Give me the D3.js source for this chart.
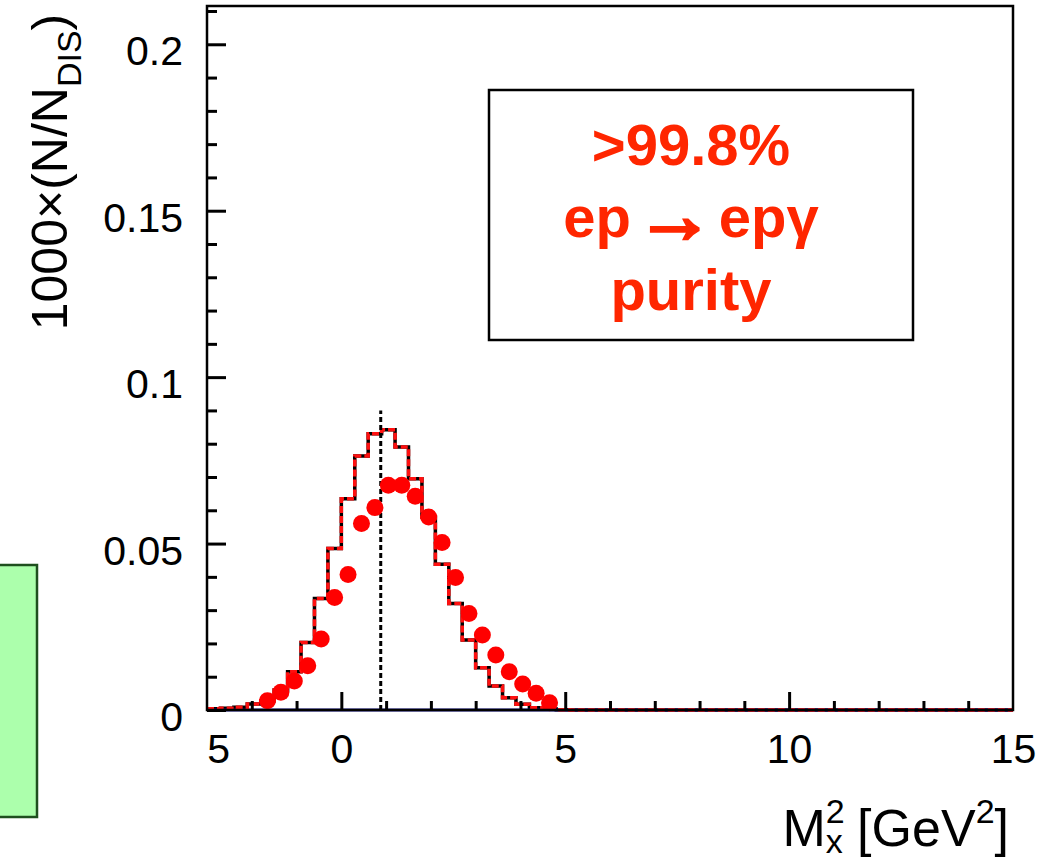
<!DOCTYPE html>
<html>
<head>
<meta charset="utf-8">
<script src="https://d3js.org/d3.v7.min.js"></script>
<style>
  body { margin: 0; background: #fff; }
  svg { display: block; }
  text { font-family: "Liberation Sans", Arial, Helvetica, sans-serif; }
</style>
</head>
<body>
<script>
// histogram: 0.3 wide bins starting at -3.0 (black line + red dashed overlay)
let binStart = -3.0;
let binWidth = 0.3;
let histValues = [
    0.0004, 0.0005, 0.0008, 0.0018, 0.0028, 0.0060, 0.0115, 0.0203, 0.0335, 0.0485,
    0.0635, 0.0763, 0.0830, 0.0842, 0.0790, 0.0695, 0.0580, 0.0438, 0.0320, 0.0210,
    0.0127, 0.0072, 0.0037, 0.0017, 0.0007, 0.0003, 0.0001, 0, 0, 0,
    0, 0, 0, 0, 0, 0, 0, 0, 0, 0,
    0, 0, 0, 0, 0, 0, 0, 0, 0, 0,
    0, 0, 0, 0, 0, 0, 0, 0, 0, 0
];

// red points (bin centres)
let dotX = [-1.65, -1.35, -1.05, -0.75, -0.45, -0.15, 0.15, 0.45, 0.75, 1.05, 1.35,
            1.65, 1.95, 2.25, 2.55, 2.85, 3.15, 3.45, 3.75, 4.05, 4.35, 4.65];
let dotY = [0.0028, 0.0053, 0.0087, 0.0133, 0.0213, 0.0338, 0.0407, 0.0560, 0.0608, 0.0675, 0.0675,
            0.0642, 0.0580, 0.0503, 0.0398, 0.0290, 0.0225, 0.0165, 0.0115, 0.0078, 0.0050, 0.0022];

// proton mass squared marker
let markerX = 0.88;
let markerTop = 0.09;

let xTickVals = [-2.75, 0, 5, 10, 15];
let xTickLabels = ["5", "0", "5", "10", "15"];
let xMinor = [-2, -1, 1, 2, 3, 4, 6, 7, 8, 9, 11, 12, 13, 14];
let yTickVals = [0, 0.05, 0.1, 0.15, 0.2];
let yTickLabels = ["0", "0.05", "0.1", "0.15", "0.2"];
let yMinor = [0.01, 0.02, 0.03, 0.04, 0.06, 0.07, 0.08, 0.09, 0.11, 0.12, 0.13, 0.14,
              0.16, 0.17, 0.18, 0.19, 0.21];

let width = 1058,
    height = 860;
let margin = {top: 6, right: 45, bottom: 150, left: 207};

let svg = d3.select("body")
    .append("svg")
    .attr("width", width)
    .attr("height", height);

let x = d3.scaleLinear()
    .domain([-3, 15])
    .range([margin.left, width - margin.right]);

let y = d3.scaleLinear()
    .domain([0, 0.2115])
    .range([height - margin.bottom, margin.top]);

// green box peeking in on the left
svg.append("rect")
    .attr("x", -5)
    .attr("y", 565)
    .attr("width", 42)
    .attr("height", 252)
    .attr("fill", "#acffac")
    .attr("stroke", "#1e4f1e")
    .attr("stroke-width", 2.5);

// build histogram step path
let bins = histValues.map(function (v, i) {
    return {x0: binStart + i * binWidth, x1: binStart + (i + 1) * binWidth, v: v};
});
let stepPts = [];
bins.forEach(function (b) {
    stepPts.push([b.x0, b.v]);
    stepPts.push([b.x1, b.v]);
});
let stepLine = d3.line()
    .x(function (d) { return x(d[0]); })
    .y(function (d) { return y(d[1]); });

svg.append("path")
    .datum(stepPts)
    .attr("d", stepLine)
    .attr("fill", "none")
    .attr("stroke", "#000")
    .attr("stroke-width", 3.5);

// blue zero line
svg.append("line")
    .attr("x1", x(-3))
    .attr("x2", x(15))
    .attr("y1", y(0))
    .attr("y2", y(0))
    .attr("stroke", "#12128c")
    .attr("stroke-width", 3);

svg.append("path")
    .datum(stepPts)
    .attr("d", stepLine)
    .attr("fill", "none")
    .attr("stroke", "#ff1010")
    .attr("stroke-width", 3.5)
    .attr("stroke-dasharray", "7,3");

// dotted marker
svg.append("line")
    .attr("x1", x(markerX))
    .attr("x2", x(markerX))
    .attr("y1", y(0))
    .attr("y2", y(markerTop))
    .attr("stroke", "#000")
    .attr("stroke-width", 3)
    .attr("stroke-dasharray", "5,3");

// points
svg.selectAll("circle.pt")
    .data(dotX)
    .enter()
    .append("circle")
    .attr("class", "pt")
    .attr("cx", function (d) { return x(d); })
    .attr("cy", function (d, i) { return y(dotY[i]); })
    .attr("r", 8.5)
    .attr("fill", "#ff0000");

// frame
svg.append("rect")
    .attr("x", x(-3))
    .attr("y", y(0.2115))
    .attr("width", x(15) - x(-3))
    .attr("height", y(0) - y(0.2115))
    .attr("fill", "none")
    .attr("stroke", "#000")
    .attr("stroke-width", 2.5);

// ticks (inward)
function styleTicks(g) {
    g.select(".domain").remove();
    g.selectAll(".tick line").attr("stroke", "#000").attr("stroke-width", 3);
    g.selectAll(".tick text").remove();
}

svg.append("g")
    .attr("transform", "translate(0," + y(0) + ")")
    .call(d3.axisTop(x).tickValues([0, 5, 10]).tickSize(18))
    .call(styleTicks);
svg.append("g")
    .attr("transform", "translate(0," + y(0) + ")")
    .call(d3.axisTop(x).tickValues(xMinor).tickSize(9))
    .call(styleTicks);
svg.append("g")
    .attr("transform", "translate(" + x(-3) + ",0)")
    .call(d3.axisRight(y).tickValues(yTickVals).tickSize(19))
    .call(styleTicks);
svg.append("g")
    .attr("transform", "translate(" + x(-3) + ",0)")
    .call(d3.axisRight(y).tickValues(yMinor).tickSize(10))
    .call(styleTicks);

// tick labels
let xLab = svg.append("g")
    .attr("transform", "translate(0," + y(0) + ")")
    .call(d3.axisBottom(x).tickValues(xTickVals).tickSize(0).tickPadding(24)
        .tickFormat(function (d, i) { return xTickLabels[i]; }));
xLab.select(".domain").remove();
xLab.selectAll("text")
    .attr("font-size", 41)
    .attr("font-family", "Liberation Sans, Arial, sans-serif")
    .attr("fill", "#000");

let yLab = svg.append("g")
    .attr("transform", "translate(" + x(-3) + ",0)")
    .call(d3.axisLeft(y).tickValues(yTickVals).tickSize(0).tickPadding(24)
        .tickFormat(function (d, i) { return yTickLabels[i]; }));
yLab.select(".domain").remove();
yLab.selectAll("text")
    .attr("dy", "0.5em")
    .attr("font-size", 41)
    .attr("font-family", "Liberation Sans, Arial, sans-serif")
    .attr("fill", "#000");

// axis titles
let yTitle = svg.append("text")
    .attr("transform", "translate(67,172) rotate(-90)")
    .attr("text-anchor", "middle")
    .attr("font-size", 50);
yTitle.append("tspan").text("1000\u00d7(N/N");
yTitle.append("tspan").attr("font-size", 34).attr("dy", 14).text("DIS");
yTitle.append("tspan").attr("dy", -14).text(")");

let xTitle = svg.append("text")
    .attr("x", 1009)
    .attr("y", 846)
    .attr("text-anchor", "end")
    .attr("font-size", 52);
xTitle.append("tspan").text("M");
xTitle.append("tspan").attr("font-size", 34).attr("dy", -23).text("2");
xTitle.append("tspan").attr("font-size", 34).attr("dx", -19).attr("dy", 30).text("x");
xTitle.append("tspan").attr("dy", -7).text(" [GeV");
xTitle.append("tspan").attr("font-size", 34).attr("dy", -23).text("2");
xTitle.append("tspan").attr("dy", 23).text("]");

// purity box
svg.append("rect")
    .attr("x", 489)
    .attr("y", 90)
    .attr("width", 424)
    .attr("height", 250)
    .attr("fill", "#fff")
    .attr("stroke", "#000")
    .attr("stroke-width", 2.5);

let boxFont = "DejaVu Sans, sans-serif";
let boxRed = "#ff2600";

function boxText(yPos) {
    return svg.append("text")
        .attr("x", 691)
        .attr("y", yPos)
        .attr("text-anchor", "middle")
        .attr("font-family", boxFont)
        .attr("font-weight", "bold")
        .attr("font-size", 58)
        .attr("fill", boxRed);
}

boxText(165).text(">99.8%");
let line2 = boxText(237);
line2.append("tspan").text("ep");
line2.append("tspan")
    .attr("font-size", 78)
    .attr("dx", 5)
    .attr("dy", 5)
    .attr("stroke", boxRed)
    .attr("stroke-width", 3.5)
    .text("\u2192");
line2.append("tspan").attr("dx", 5).attr("dy", -5).text("ep\u03b3");
boxText(310).text("purity");
</script>
</body>
</html>
